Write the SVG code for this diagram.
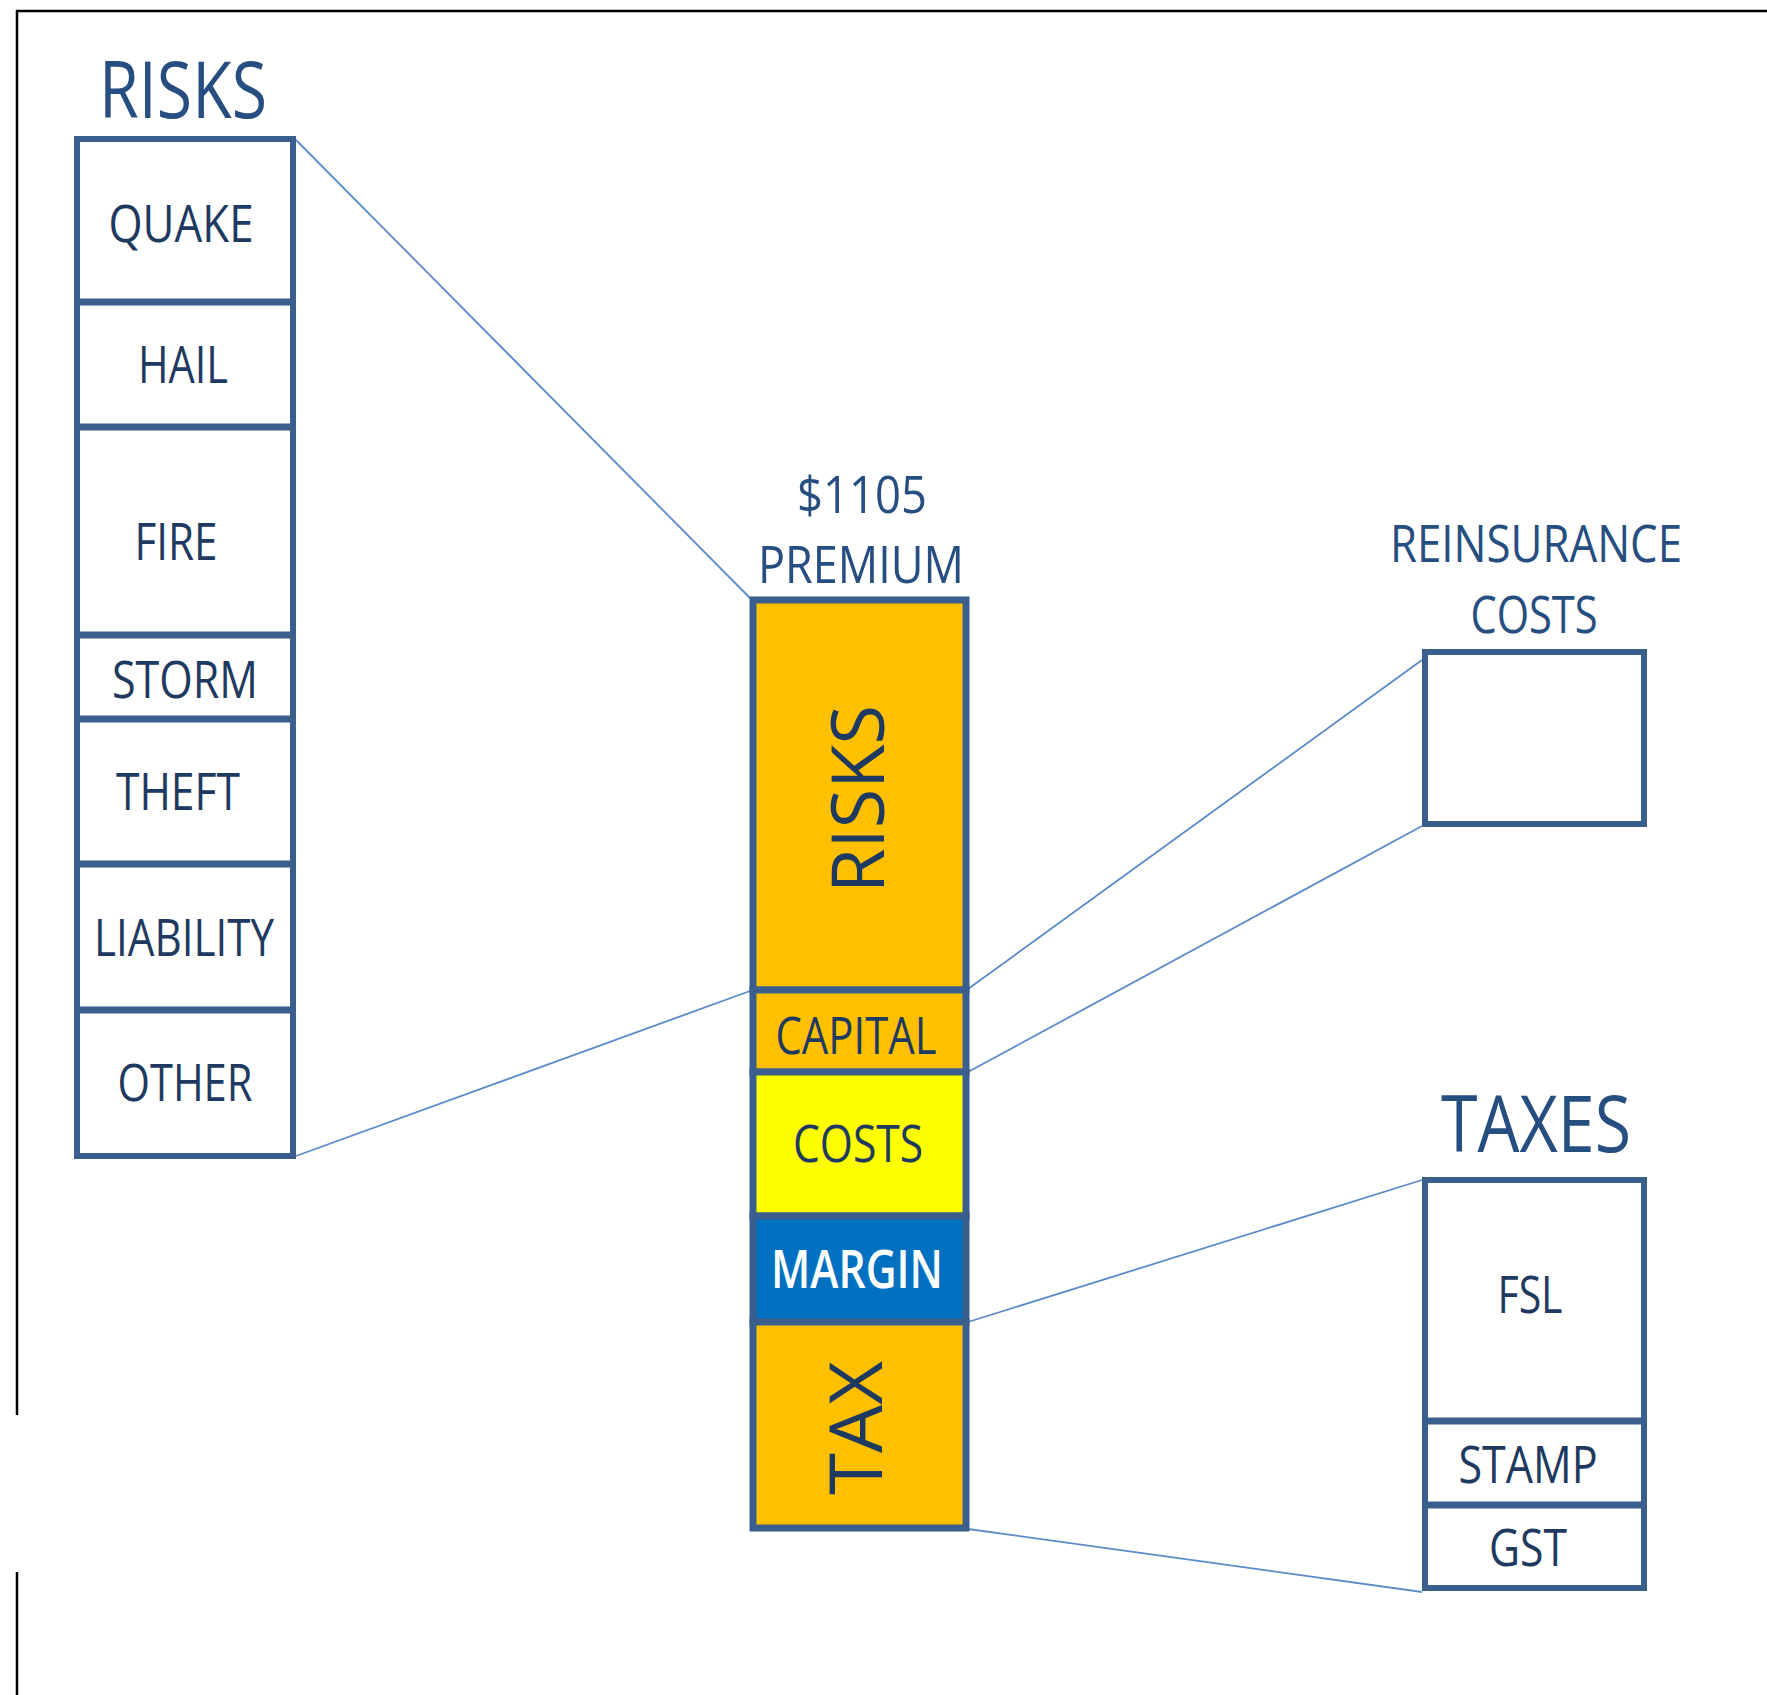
<svg xmlns="http://www.w3.org/2000/svg" width="1767" height="1695" viewBox="0 0 1767 1695">
  <style>
    .frame { stroke: #000; stroke-width: 2.5; fill: none; }
    .box { fill: #fff; stroke: #3A5F8C; stroke-width: 6; }
    .div { stroke: #3A5F8C; stroke-width: 7; }
    .seg { stroke: #3A5F8C; stroke-width: 7; }
    .link { stroke: #5B8BC9; stroke-width: 1.8; fill: none; }
    text { font-family: "Open Sans", "Noto Sans", "DejaVu Sans", sans-serif; text-anchor: middle; }
    .title { font-size: 78px; fill: #264E80; }
    .head { font-size: 52px; fill: #264E80; }
    .lbl { font-size: 52px; fill: #1F3A60; }
    .vert { font-size: 74px; fill: #1F3A60; }
    .white { font-size: 52px; fill: #fff; font-weight: 600; }
  </style>

  <!-- page frame (top and left edges only) -->
  <g id="frame">
    <line class="frame" x1="16" y1="11" x2="1767" y2="11"/>
    <line class="frame" x1="17" y1="10" x2="17" y2="1415"/>
    <line class="frame" x1="17" y1="1572" x2="17" y2="1695"/>
  </g>

  <!-- connectors -->
  <g id="connectors">
    <line class="link" x1="296" y1="140" x2="750" y2="598"/>
    <line class="link" x1="296" y1="1156" x2="750" y2="991"/>
    <line class="link" x1="968" y1="989" x2="1422" y2="660"/>
    <line class="link" x1="968" y1="1072" x2="1422" y2="826"/>
    <line class="link" x1="968" y1="1322" x2="1422" y2="1180"/>
    <line class="link" x1="968" y1="1529" x2="1422" y2="1592"/>
  </g>

  <!-- risk breakdown column -->
  <g id="risks">
    <text class="title" x="183" y="118" textLength="168" lengthAdjust="spacingAndGlyphs">RISKS</text>
    <rect class="box" x="77" y="139" width="216" height="1017"/>
    <line class="div" x1="77" y1="302" x2="293" y2="302"/>
    <line class="div" x1="77" y1="427" x2="293" y2="427"/>
    <line class="div" x1="77" y1="635" x2="293" y2="635"/>
    <line class="div" x1="77" y1="719" x2="293" y2="719"/>
    <line class="div" x1="77" y1="864" x2="293" y2="864"/>
    <line class="div" x1="77" y1="1010" x2="293" y2="1010"/>
    <text class="lbl" x="181" y="242" textLength="145" lengthAdjust="spacingAndGlyphs">QUAKE</text>
    <text class="lbl" x="183" y="383" textLength="90" lengthAdjust="spacingAndGlyphs">HAIL</text>
    <text class="lbl" x="176" y="560" textLength="83" lengthAdjust="spacingAndGlyphs">FIRE</text>
    <text class="lbl" x="185" y="698" textLength="146" lengthAdjust="spacingAndGlyphs">STORM</text>
    <text class="lbl" x="178" y="810" textLength="124" lengthAdjust="spacingAndGlyphs">THEFT</text>
    <text class="lbl" x="184" y="956" textLength="180" lengthAdjust="spacingAndGlyphs">LIABILITY</text>
    <text class="lbl" x="185" y="1101" textLength="135" lengthAdjust="spacingAndGlyphs">OTHER</text>
  </g>

  <!-- premium stack -->
  <g id="premium">
    <text class="head" x="862" y="513" textLength="130" lengthAdjust="spacingAndGlyphs">$1105</text>
    <text class="head" x="861" y="583" textLength="206" lengthAdjust="spacingAndGlyphs">PREMIUM</text>
    <rect class="seg" x="753" y="600" width="213" height="390" fill="#FFC000"/>
    <rect class="seg" x="753" y="990" width="213" height="82" fill="#FFC000"/>
    <rect class="seg" x="753" y="1072" width="213" height="144" fill="#FFFF00"/>
    <rect class="seg" x="753" y="1216" width="213" height="106" fill="#0070C0"/>
    <rect class="seg" x="753" y="1322" width="213" height="206" fill="#FFC000"/>
    <text class="vert" transform="translate(884,799) rotate(-90)" textLength="188" lengthAdjust="spacingAndGlyphs">RISKS</text>
    <text class="lbl" x="856" y="1054" textLength="161" lengthAdjust="spacingAndGlyphs">CAPITAL</text>
    <text class="lbl" x="858" y="1162" textLength="130" lengthAdjust="spacingAndGlyphs">COSTS</text>
    <text class="white" x="857" y="1288" textLength="172" lengthAdjust="spacingAndGlyphs">MARGIN</text>
    <text class="vert" transform="translate(882,1428) rotate(-90)" textLength="134" lengthAdjust="spacingAndGlyphs">TAX</text>
  </g>

  <!-- reinsurance costs -->
  <g id="reinsurance">
    <text class="head" x="1536" y="562" textLength="292" lengthAdjust="spacingAndGlyphs">REINSURANCE</text>
    <text class="head" x="1534" y="633" textLength="127" lengthAdjust="spacingAndGlyphs">COSTS</text>
    <rect class="box" x="1425" y="652" width="219" height="172"/>
  </g>

  <!-- taxes breakdown -->
  <g id="taxes">
    <text class="title" x="1536" y="1152" textLength="190" lengthAdjust="spacingAndGlyphs">TAXES</text>
    <rect class="box" x="1425" y="1180" width="219" height="408"/>
    <line class="div" x1="1425" y1="1421" x2="1644" y2="1421"/>
    <line class="div" x1="1425" y1="1505" x2="1644" y2="1505"/>
    <text class="lbl" x="1530" y="1313" textLength="65" lengthAdjust="spacingAndGlyphs">FSL</text>
    <text class="lbl" x="1528" y="1483" textLength="139" lengthAdjust="spacingAndGlyphs">STAMP</text>
    <text class="lbl" x="1528" y="1566" textLength="78" lengthAdjust="spacingAndGlyphs">GST</text>
  </g>
</svg>
